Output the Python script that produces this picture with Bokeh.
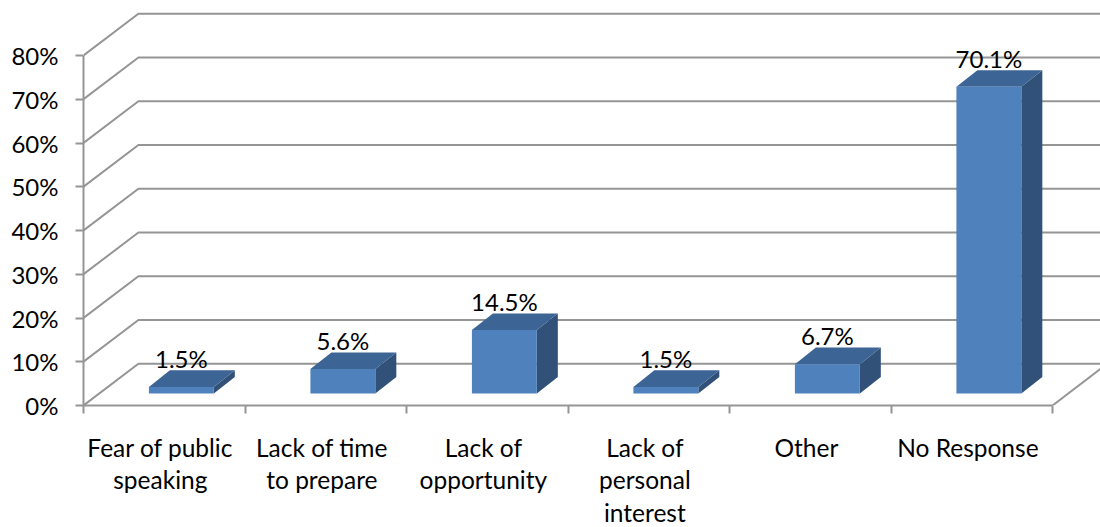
from bokeh.plotting import figure
from bokeh.models import LinearAxis, FixedTicker, Range1d
from bokeh.core.properties import value as fixed
from bokeh.embed import file_html
from bokeh.resources import INLINE

categories = ["Fear of public\nspeaking", "Lack of time\nto prepare", "Lack of\nopportunity",
              "Lack of\npersonal\ninterest", "Other", "No Response"]
values = [1.5, 5.6, 14.5, 1.5, 6.7, 70.1]
labels = ["1.5%", "5.6%", "14.5%", "1.5%", "6.7%", "70.1%"]
y_ticks = [0, 10, 20, 30, 40, 50, 60, 70, 80]

FONT = "Lato"
GREY = "#959595"
FRONT, TOP, SIDE = "#4F81BD", "#3C6494", "#325179"

# oblique projection, in data units (category widths, percent points)
WALL_DX, WALL_DY = 0.340, 9.55
BAR_DX, BAR_DY = 0.130, 3.8
BAR_W, BAR_L, BAR_BASE = 0.402, 0.405, 2.74
LABEL_SHIFT = -0.024

W, H = 1100, 527
FRAME_L, FRAME_B = 83, 122
PX_PER_CAT, PX_PER_PCT = 161.5, 4.375

p = figure(width=W, height=H, output_backend="svg", toolbar_location=None,
           x_range=Range1d(0, (W - FRAME_L) / PX_PER_CAT),
           y_range=Range1d(0, (H - FRAME_B) / PX_PER_PCT),
           x_axis_type=None, y_axis_type=None,
           min_border_left=FRAME_L, min_border_bottom=FRAME_B, min_border_top=0, min_border_right=0,
           frame_width=W - FRAME_L, frame_height=H - FRAME_B)
p.outline_line_color = None
p.grid.visible = False
p.background_fill_color = None

n = len(categories)
# wall and floor lines
xs = [[0, WALL_DX, n + WALL_DX] for _ in y_ticks] + [[n, n + WALL_DX]]
ys = [[t, t + WALL_DY, t + WALL_DY] for t in y_ticks] + [[0, WALL_DY]]
p.multi_line(xs, ys, line_color=GREY, line_width=2)

lefts = [i + BAR_L for i in range(n)]
rights = [l + BAR_W for l in lefts]
tops = [BAR_BASE + v for v in values]

p.patches([[r, r + BAR_DX, r + BAR_DX, r] for r in rights],
          [[BAR_BASE, BAR_BASE + BAR_DY, t + BAR_DY, t] for t in tops],
          fill_color=SIDE, line_color=None)
p.patches([[l, l + BAR_DX, r + BAR_DX, r] for l, r in zip(lefts, rights)],
          [[t, t + BAR_DY, t + BAR_DY, t] for t in tops],
          fill_color=TOP, line_color=None)
p.quad(left=lefts, right=rights, bottom=[BAR_BASE] * n, top=tops, fill_color=FRONT, line_color=None)

p.text(x=[l + BAR_W / 2 for l in lefts], y=[t + BAR_DY for t in tops], text=labels,
       text_font=fixed(FONT), text_font_size="24px", text_color="#000000",
       text_align="center", text_baseline="alphabetic", y_offset=-12)

yax = LinearAxis(ticker=FixedTicker(ticks=y_ticks), bounds=(0, 80),
                 major_label_overrides={t: f"{t}%" for t in y_ticks})
yax.axis_line_color = GREY
yax.axis_line_width = 2
yax.major_tick_line_color = GREY
yax.major_tick_line_width = 2
yax.major_tick_out = 8
yax.major_tick_in = 0
yax.minor_tick_line_color = None
yax.major_label_standoff = 17
yax.major_label_text_font = FONT
yax.major_label_text_font_size = "24px"
yax.major_label_text_color = "#000000"
p.add_layout(yax, "left")

centers = [i + 0.5 + LABEL_SHIFT for i in range(n)]
xax = LinearAxis(ticker=FixedTicker(ticks=centers, minor_ticks=list(range(n + 1))), bounds=(0, n),
                 major_label_overrides=dict(zip(centers, categories)))
xax.axis_line_color = GREY
xax.axis_line_width = 2
xax.major_tick_line_color = None
xax.major_tick_out = 8
xax.major_tick_in = 0
xax.minor_tick_line_color = GREY
xax.minor_tick_line_width = 2
xax.minor_tick_out = 8
xax.minor_tick_in = 0
xax.major_label_standoff = 19
xax.major_label_text_font = FONT
xax.major_label_text_font_size = "24.5px"
xax.major_label_text_color = "#000000"
xax.major_label_text_line_height = 1.13
xax.major_label_orientation = "horizontal"
p.add_layout(xax, "below")

open("out.html", "w").write(file_html(p, INLINE))
